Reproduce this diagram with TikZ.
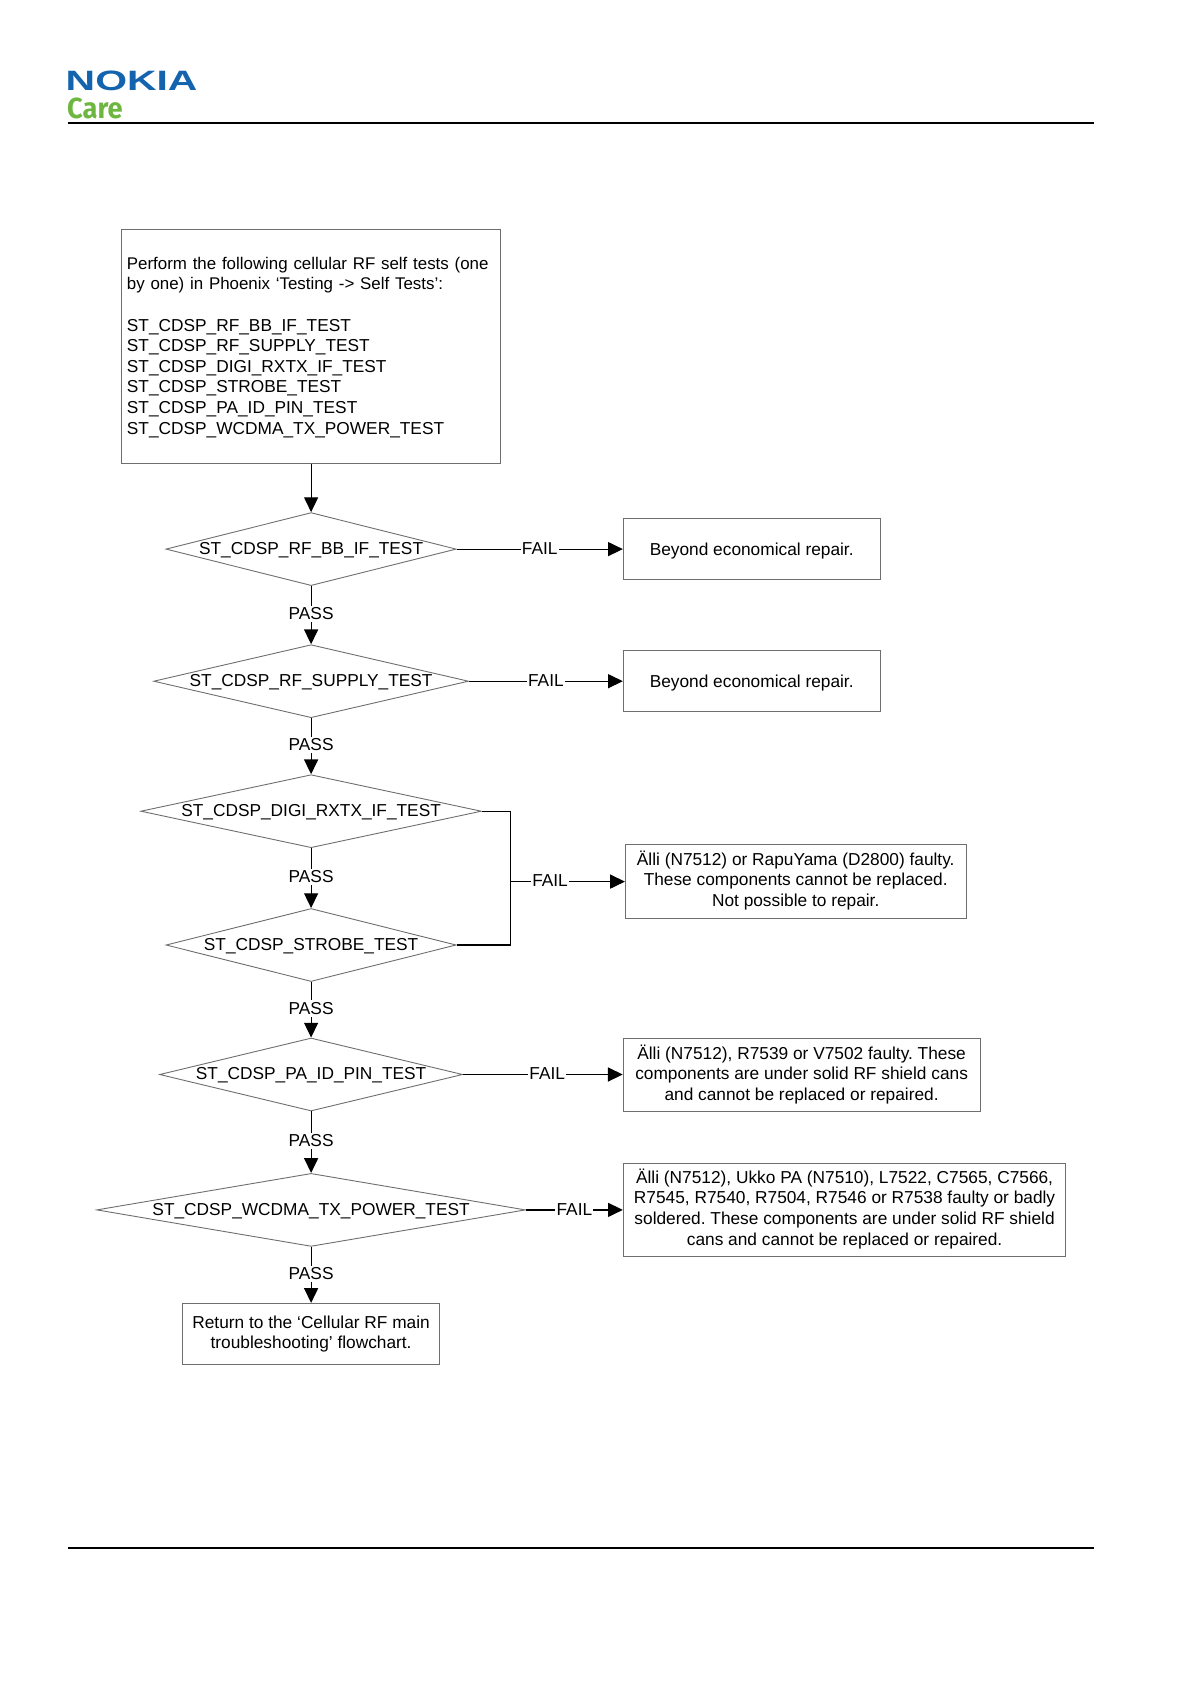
\documentclass[tikz,border=0pt]{standalone}
\usepackage{fontspec}
\setmainfont{Liberation Sans}
\newfontfamily\carefont{Fira Sans}
\usetikzlibrary{shapes.geometric,arrows.meta}
\definecolor{nokiablue}{HTML}{1463AE}
\definecolor{caregreen}{HTML}{6DB740}
\definecolor{shapeline}{HTML}{6E6E6E}
\newcommand{\dtxt}[1]{\raisebox{-2.7pt}[0pt][0pt]{\makebox[0pt]{#1}}}
\newcommand{\rtxt}[1]{\raisebox{-3.2pt}[0pt][0pt]{#1}}
\tikzset{
  proc/.style={draw=shapeline,line width=0.45pt,rectangle,align=center,inner sep=0pt,
    font=\fontsize{8.65}{10.3}\selectfont\frenchspacing},
  dia/.style={draw=shapeline,line width=0.45pt,diamond,inner sep=0pt,minimum height=36.5pt,
    font=\fontsize{8.65}{10.3}\selectfont},
  conn/.style={draw=black,line width=0.6pt,-{Triangle[length=7.4pt,width=7pt]}},
  plainconn/.style={draw=black,line width=0.6pt},
  lab/.style={fill=white,inner xsep=0.6pt,inner ysep=1pt,font=\fontsize{8.65}{10.3}\selectfont},
  passlab/.style={lab,yshift=0.6pt},
  faillab/.style={lab,yshift=0.3pt},
  rulel/.style={draw=black,line width=1pt}
}
\begin{document}
\begin{tikzpicture}[x=0.5pt,y=-0.5pt]
\useasboundingbox (0,0) rectangle (1191,1684);
% header
\coordinate (hl) at (67.7,123); \coordinate (hr) at (1094,123);
\coordinate (fl) at (67.7,1548.4); \coordinate (fr) at (1094,1548.4);
\draw[rulel] (hl) -- (hr);
\draw[rulel] (fl) -- (fr);
\node[anchor=center,inner sep=0pt,text=nokiablue,xscale=1.46,font=\fontsize{14}{14}\selectfont\bfseries] (nokia) at (131.6,80.6) {NOKIA};
\node[anchor=center,inner sep=0pt,text=caregreen,xscale=0.94,font=\fontsize{14.5}{14.5}\selectfont\carefont\bfseries] (care) at (95,108) {Care};
% start
\node[proc,minimum width=189.6pt,minimum height=116.6pt,align=left,text width=184.2pt] (start) at (311.1,346.5)
{\rule{0pt}{7pt}{\fontsize{8.45}{10.3}\selectfont Perform the following cellular RF self tests (one\\by one) in Phoenix ‘Testing -> Self Tests’:}\\[10.3pt]
ST\_CDSP\_RF\_BB\_IF\_TEST\\ST\_CDSP\_RF\_SUPPLY\_TEST\\ST\_CDSP\_DIGI\_RXTX\_IF\_TEST\\ST\_CDSP\_STROBE\_TEST\\ST\_CDSP\_PA\_ID\_PIN\_TEST\\ST\_CDSP\_WCDMA\_TX\_POWER\_TEST};
% decisions
\node[dia,minimum width=145.1pt] (d1) at (311.1,549.1) {\dtxt{ST\_CDSP\_RF\_BB\_IF\_TEST}};
\node[dia,minimum width=157.4pt] (d2) at (311.1,681.2) {\dtxt{ST\_CDSP\_RF\_SUPPLY\_TEST}};
\node[dia,minimum width=170.3pt] (d3) at (311.1,811.2) {\dtxt{ST\_CDSP\_DIGI\_RXTX\_IF\_TEST}};
\node[dia,minimum width=145.1pt] (d4) at (311.1,945) {\dtxt{ST\_CDSP\_STROBE\_TEST}};
\node[dia,minimum width=151.5pt] (d5) at (311.1,1074.5) {\dtxt{ST\_CDSP\_PA\_ID\_PIN\_TEST}};
\node[dia,minimum width=214.4pt] (d6) at (311.1,1209.9) {\dtxt{ST\_CDSP\_WCDMA\_TX\_POWER\_TEST}};
% end boxes
\node[proc,minimum width=128.4pt,minimum height=30.6pt] (ret) at (311.1,1334) {Return to the ‘Cellular RF main\\troubleshooting’ flowchart.};
\node[proc,minimum width=128.4pt,minimum height=30.6pt] (r1) at (751.7,549.1) {\rtxt{Beyond economical repair.}};
\node[proc,minimum width=128.4pt,minimum height=30.6pt] (r2) at (751.7,681.2) {\rtxt{Beyond economical repair.}};
\node[proc,minimum width=170.3pt,minimum height=37.1pt] (r3) at (795.7,881.6) {Älli (N7512) or RapuYama (D2800) faulty.\\These components cannot be replaced.\\Not possible to repair.\rule[-3pt]{0pt}{0pt}};
\node[proc,minimum width=178.4pt,minimum height=36.5pt] (r4) at (801.6,1074.5) {Älli (N7512), R7539 or V7502 faulty. These\\components are under solid RF shield cans\\and cannot be replaced or repaired.};
\node[proc,minimum width=221.3pt,minimum height=46.2pt] (r5) at (844.6,1209.9) {Älli (N7512), Ukko PA (N7510), L7522, C7565, C7566,\\R7545, R7540, R7504, R7546 or R7538 faulty or badly\\soldered. These components are under solid RF shield\\cans and cannot be replaced or repaired.\rule[-3pt]{0pt}{0pt}};
% vertical connectors
\draw[conn] (start.south) -- (d1.north);
\draw[conn] (d1.south) -- node[passlab] (p1) {PASS} (d2.north);
\draw[conn] (d2.south) -- node[passlab] (p2) {PASS} (d3.north);
\draw[conn] (d3.south) -- node[passlab] (p3) {PASS} (d4.north);
\draw[conn] (d4.south) -- node[passlab] (p4) {PASS} (d5.north);
\draw[conn] (d5.south) -- node[passlab] (p5) {PASS} (d6.north);
\draw[conn] (d6.south) -- node[passlab] (p6) {PASS} (ret.north);
% fail connectors
\draw[conn] (d1.east) -- node[faillab] (f1) {FAIL} (r1.west);
\draw[conn] (d2.east) -- node[faillab] (f2) {FAIL} (r2.west);
\coordinate (j) at (510.4,881.6);
\draw[plainconn] (d3.east) -| (j);
\draw[plainconn] (d4.east) -| (j);
\draw[conn] (j) -- node[faillab,pos=.346] (f3) {FAIL} (r3.west);
\draw[conn] (d5.east) -- node[faillab,pos=.527] (f4) {FAIL} (r4.west);
\draw[conn] (d6.east) -- node[faillab] (f5) {FAIL} (r5.west);
\end{tikzpicture}
\end{document}
